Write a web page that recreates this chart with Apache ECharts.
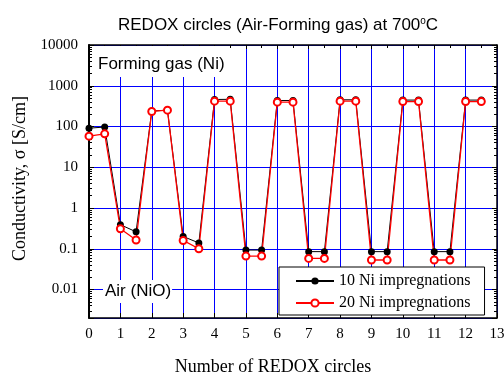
<!DOCTYPE html>
<html>
<head>
<meta charset="utf-8">
<script src="https://cdn.jsdelivr.net/npm/echarts@6/dist/echarts.min.js"></script>
<style>html,body{margin:0;padding:0;background:#fff}#c{width:504px;height:374px}</style>
</head>
<body>
<div id="c"></div>
<script>
// ---- data ----
const cycles = [0,0.5,1,1.5,2,2.5,3,3.5,4,4.5,5,5.5,6,6.5,7,7.5,8,8.5,9,9.5,10,10.5,11,11.5,12,12.5];
const ni10 = [91,97,0.39,0.26,240,252,0.20,0.139,460,465,0.093,0.093,435,435,0.085,0.085,452,452,0.085,0.085,445,445,0.085,0.085,445,445];
const ni20 = [58,66,0.31,0.164,234,252,0.16,0.10,418,418,0.066,0.066,395,395,0.058,0.058,418,418,0.053,0.053,410,410,0.053,0.053,410,410];
const seriesNames = ['10 Ni impregnations','20 Ni impregnations'];
const yTickLabels = ['0.01','0.1','1','10','100','1000','10000'];

const serif = 'Liberation Serif';
const sans = 'Liberation Sans';
const chart = echarts.init(document.getElementById('c'), null, {renderer:'canvas'});

function pairs(xs, ys){ return xs.map((x,i)=>[x, ys[i]]); }

chart.setOption({
  animation:false,
  backgroundColor:'#fff',
  title:[
    {text:'{a|REDOX circles (Air-Forming gas) at 700}{s|o}{a|C}', left:113, top:11,
     textStyle:{fontWeight:'normal',rich:{a:{fontFamily:sans,fontSize:17,fontWeight:'normal',color:'#000'},s:{fontFamily:sans,fontSize:10,fontWeight:'normal',color:'#000',verticalAlign:'top',padding:[0,0,8,0]}}}},
    {text:'Forming gas (Ni)', left:92, top:46, padding:[10,4,4,6], backgroundColor:'#fff',
     textStyle:{fontFamily:sans,fontSize:17,fontWeight:'normal',color:'#000'}},
    {text:'Air (NiO)', left:103, top:280, padding:[3,1,3,2], backgroundColor:'#fff',
     textStyle:{fontFamily:sans,fontSize:17,fontWeight:'normal',color:'#000'}}
  ],
  legend:{
    orient:'vertical', left:279, top:267,
    backgroundColor:'#fff', borderColor:'#000', borderWidth:1, borderRadius:0,
    padding:[6,14,4,16], itemGap:6, itemWidth:38, itemHeight:9,
    textStyle:{fontFamily:serif,fontSize:16,color:'#000'},
    data:seriesNames
  },
  grid:{left:89,right:7,top:45,bottom:56,containLabel:false,outerBoundsMode:'none'},
  xAxis:[
    {type:'value',min:0,max:13,interval:1,position:'bottom',
     name:'Number of REDOX circles',nameLocation:'middle',nameGap:40,
     nameTextStyle:{fontFamily:serif,fontSize:18,color:'#000',padding:[0,40,0,0]},
     axisLine:{onZero:false,lineStyle:{color:'#000',width:1.5}},
     axisTick:{inside:true,length:5,lineStyle:{color:'#000'}},
     axisLabel:{fontFamily:serif,fontSize:15,color:'#000',margin:9},
     splitLine:{show:true,lineStyle:{color:'#0000ff',width:1}}},
    {type:'value',min:0,max:13,interval:1,position:'top',
     axisLine:{onZero:false,lineStyle:{color:'#000',width:1.5}},
     axisTick:{inside:true,length:4,lineStyle:{color:'#000'}},
     minorTick:{show:true,splitNumber:2,length:3,lineStyle:{color:'#000'}},
     axisLabel:{show:false},splitLine:{show:false}}
  ],
  yAxis:[
    {type:'log',logBase:10,min:0.002,max:10000,position:'left',
     name:'Conductivity, σ [S/cm]',nameLocation:'middle',nameGap:58,nameRotate:90,
     nameTextStyle:{fontFamily:serif,fontSize:18,color:'#000',padding:[0,0,0,6]},
     axisLine:{onZero:false,lineStyle:{color:'#000',width:2}},
     axisTick:{inside:true,length:5,lineStyle:{color:'#000'}},
     minorTick:{show:true,splitNumber:9,length:3,lineStyle:{color:'#000'}},
     axisLabel:{fontFamily:serif,fontSize:15,color:'#000',margin:11,
       formatter:function(v){ const s = String(+v.toPrecision(6)); return yTickLabels.indexOf(s)>=0 ? s : ''; }},
     splitLine:{show:true,lineStyle:{color:'#0000ff',width:1}}},
    {type:'log',logBase:10,min:0.002,max:10000,position:'right',
     axisLine:{onZero:false,lineStyle:{color:'#000',width:1.5}},
     axisTick:{inside:true,length:5,lineStyle:{color:'#000'}},
     minorTick:{show:true,splitNumber:9,length:3,lineStyle:{color:'#000'}},
     axisLabel:{show:false},splitLine:{show:false}}
  ],
  series:[
    {name:seriesNames[0],type:'line',xAxisIndex:0,yAxisIndex:0,data:pairs(cycles,ni10),
     symbol:'circle',symbolSize:7,
     lineStyle:{color:'#000',width:1},itemStyle:{color:'#000'}},
    {name:seriesNames[1],type:'line',xAxisIndex:0,yAxisIndex:0,data:pairs(cycles,ni20),
     symbol:'emptyCircle',symbolSize:7,
     lineStyle:{color:'#ff0000',width:1.3},itemStyle:{color:'#ff0000',borderWidth:1.3}}
  ]
});
</script>
</body>
</html>
